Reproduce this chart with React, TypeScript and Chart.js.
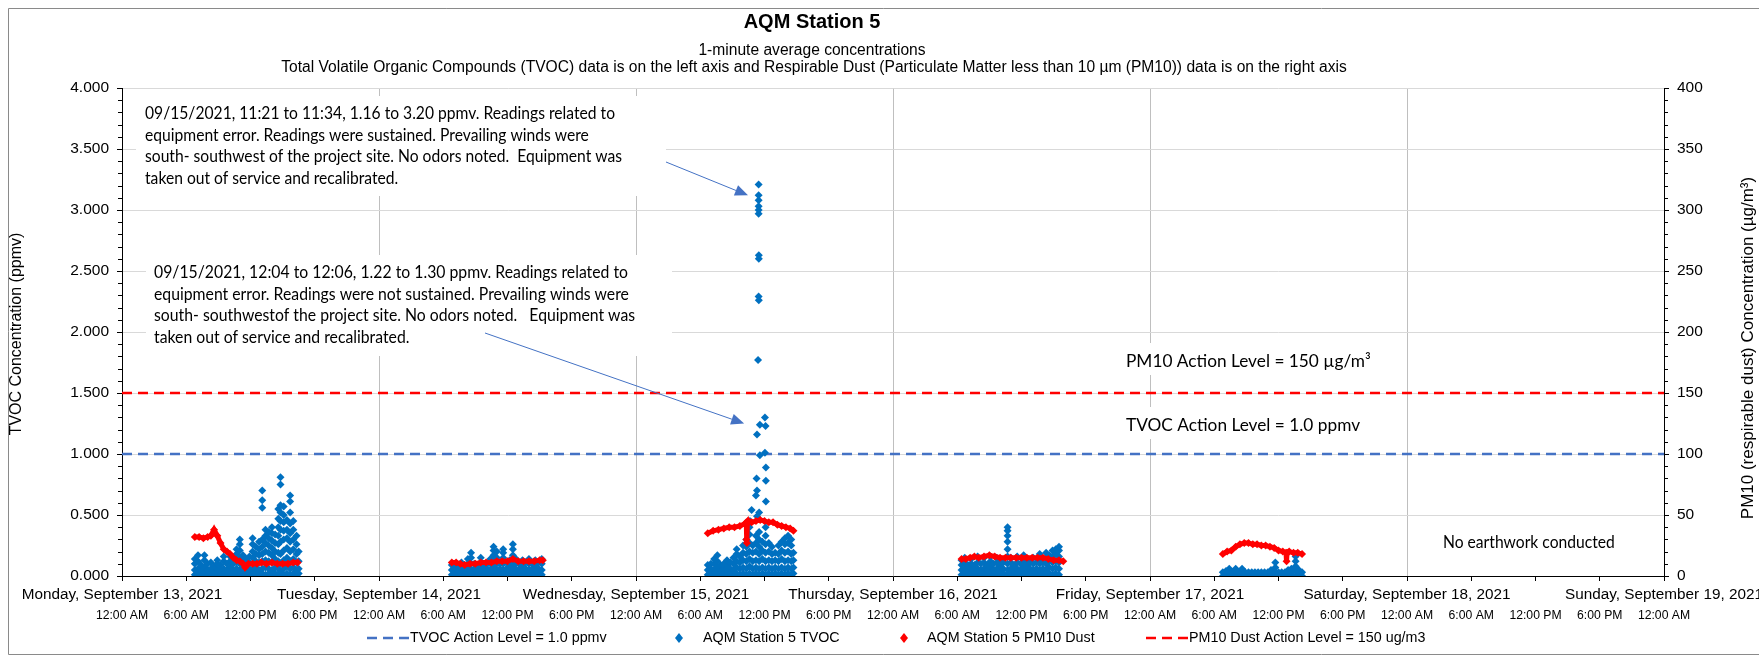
import React, { useEffect, useRef } from 'react';
import { Chart, registerables } from 'chart.js';

Chart.register(...registerables);

// ---------- labels ----------
const chartTitle = 'AQM Station 5';
const subtitle1 = '1-minute average concentrations';
const subtitle2 =
  'Total Volatile Organic Compounds (TVOC) data is on the left axis and Respirable Dust (Particulate Matter less than 10 µm (PM10)) data is on the right axis';
const leftAxisTitle = 'TVOC Concentration (ppmv)';
const rightAxisTitle = 'PM10 (respirable dust) Concentration (µg/m³)';
const dayLabels = [
  'Monday, September 13, 2021',
  'Tuesday, September 14, 2021',
  'Wednesday, September 15, 2021',
  'Thursday, September 16, 2021',
  'Friday, September 17, 2021',
  'Saturday, September 18, 2021',
  'Sunday, September 19, 2021',
];
const timeLabels = ['12:00 AM', '6:00 AM', '12:00 PM', '6:00 PM'];
const legendLabels = [
  'TVOC Action Level = 1.0 ppmv',
  'AQM Station 5 TVOC',
  'AQM Station 5 PM10 Dust',
  'PM10 Dust Action Level = 150 ug/m3',
];
const note1 = [
  '09/15/2021, 11:21 to 11:34, 1.16 to 3.20 ppmv. Readings related to',
  'equipment error. Readings were sustained. Prevailing winds were',
  'south- southwest of the project site. No odors noted.  Equipment was',
  'taken out of service and recalibrated.',
];
const note2 = [
  '09/15/2021, 12:04 to 12:06, 1.22 to 1.30 ppmv. Readings related to',
  'equipment error. Readings were not sustained. Prevailing winds were',
  'south- southwestof the project site. No odors noted.   Equipment was',
  'taken out of service and recalibrated.',
];
const pm10LevelText = 'PM10 Action Level = 150 µg/m³';
const tvocLevelText = 'TVOC Action Level = 1.0 ppmv';
const noWorkText = 'No earthwork conducted';

// ---------- axis ranges (hours since Mon 13 Sep 2021 00:00) ----------
const xMinHours = 0;
const xMaxHours = 144;
const tvocActionLevel = 1.0;
const pm10ActionLevel = 150;

// ---------- TVOC (ppmv), columns of readings ----------
const monTvocHours = [6.8, 7.1, 7.4, 7.7, 8.0, 8.3, 8.6, 8.9, 9.2, 9.5, 9.8, 10.1, 10.4, 10.7, 11.0, 11.3, 11.6, 11.9, 12.2, 12.5, 12.8, 13.1, 13.4, 13.7, 14.0, 14.3, 14.6, 14.8, 15.1, 15.4, 15.7, 16.0, 16.3, 16.5];
const monTvocValues = [
  [0.01, 0.05, 0.1, 0.14], [0.02, 0.06, 0.12, 0.17], [0.01, 0.05, 0.09], [0.02, 0.07, 0.13, 0.17],
  [0.01, 0.05, 0.1], [0.02, 0.06, 0.11], [0.01, 0.04, 0.08], [0.02, 0.06, 0.1, 0.13],
  [0.01, 0.05, 0.09], [0.02, 0.06, 0.12, 0.16], [0.01, 0.05, 0.1], [0.02, 0.07, 0.12, 0.16],
  [0.01, 0.05, 0.1, 0.14], [0.02, 0.06, 0.11, 0.18, 0.22], [0.01, 0.05, 0.1, 0.15, 0.21, 0.26, 0.3],
  [0.02, 0.07, 0.12, 0.17], [0.01, 0.05, 0.1, 0.14], [0.02, 0.06, 0.11, 0.16],
  [0.01, 0.05, 0.1, 0.15, 0.2, 0.26, 0.31], [0.02, 0.07, 0.12, 0.18, 0.24], [0.01, 0.05, 0.11, 0.17, 0.22, 0.28],
  [0.02, 0.06, 0.12, 0.18, 0.24, 0.3, 0.56, 0.62, 0.7], [0.01, 0.07, 0.13, 0.2, 0.27, 0.33, 0.38],
  [0.02, 0.06, 0.12, 0.19, 0.25, 0.31, 0.36], [0.01, 0.05, 0.11, 0.17, 0.23, 0.29, 0.35, 0.4],
  [0.02, 0.07, 0.14, 0.2, 0.27, 0.34], [0.01, 0.06, 0.12, 0.19, 0.26, 0.33, 0.4, 0.47, 0.55],
  [0.03, 0.1, 0.18, 0.28, 0.38, 0.45, 0.52, 0.58, 0.75, 0.81], [0.01, 0.06, 0.13, 0.21, 0.3, 0.37, 0.44, 0.5, 0.57],
  [0.02, 0.08, 0.15, 0.23, 0.31, 0.38, 0.46], [0.01, 0.06, 0.12, 0.2, 0.28, 0.35, 0.43, 0.52, 0.61, 0.66],
  [0.02, 0.07, 0.14, 0.22, 0.3, 0.38, 0.45], [0.01, 0.05, 0.11, 0.18, 0.26, 0.33], [0.02, 0.06, 0.12, 0.2],
];
const tueTvocHours = [30.8, 31.1, 31.4, 31.7, 32.0, 32.3, 32.6, 32.9, 33.2, 33.5, 33.8, 34.1, 34.4, 34.7, 35.0, 35.3, 35.6, 35.9, 36.2, 36.5, 36.8, 37.1, 37.4, 37.7, 38.0, 38.3, 38.6, 38.9, 39.2];
const tueTvocValues = [
  [0.01, 0.05, 0.09], [0.02, 0.06, 0.1], [0.01, 0.04, 0.08], [0.02, 0.06, 0.11], [0.01, 0.05, 0.09],
  [0.02, 0.06, 0.1, 0.14], [0.01, 0.05, 0.1, 0.15, 0.19], [0.02, 0.06, 0.1], [0.01, 0.05, 0.09],
  [0.02, 0.06, 0.11, 0.15], [0.01, 0.05, 0.09], [0.02, 0.06, 0.1], [0.01, 0.05, 0.1, 0.14],
  [0.02, 0.07, 0.12, 0.17, 0.21, 0.24], [0.01, 0.05, 0.1, 0.15, 0.2], [0.02, 0.06, 0.1],
  [0.01, 0.05, 0.1, 0.15, 0.19, 0.22], [0.02, 0.06, 0.11], [0.01, 0.05, 0.09, 0.13],
  [0.02, 0.07, 0.12, 0.17, 0.22, 0.26], [0.01, 0.05, 0.1, 0.14], [0.02, 0.06, 0.1], [0.01, 0.05, 0.09, 0.13],
  [0.02, 0.06, 0.11], [0.01, 0.05, 0.1, 0.14], [0.02, 0.06, 0.1], [0.01, 0.05, 0.09, 0.13],
  [0.02, 0.06, 0.11], [0.01, 0.05, 0.1, 0.14],
];
const wedTvocHours = [54.7, 55.0, 55.3, 55.6, 55.9, 56.2, 56.5, 56.8, 57.1, 57.4, 57.7, 58.0, 58.3, 58.6, 58.9, 59.2, 59.5, 59.8, 60.1, 60.4, 60.7, 61.0, 61.3, 61.6, 61.9, 62.2, 62.5, 62.7];
const wedTvocValues = [
  [0.01, 0.05, 0.09], [0.02, 0.06, 0.1], [0.01, 0.05, 0.1, 0.14], [0.02, 0.07, 0.12, 0.17],
  [0.01, 0.05, 0.09], [0.02, 0.06, 0.1], [0.01, 0.05, 0.09, 0.13], [0.02, 0.06, 0.11],
  [0.01, 0.05, 0.1, 0.15], [0.02, 0.07, 0.12, 0.18, 0.22], [0.01, 0.06, 0.11, 0.16],
  [0.02, 0.07, 0.13, 0.19, 0.25], [0.01, 0.06, 0.12, 0.18, 0.24, 0.3], [0.02, 0.08, 0.14, 0.2, 0.27, 0.34, 0.4],
  [0.01, 0.06, 0.12, 0.19, 0.25], [0.02, 0.07, 0.13, 0.2, 0.27, 0.33], [0.01, 0.06, 0.12, 0.18, 0.24, 0.3, 0.36],
  [0.02, 0.07, 0.14, 0.21, 0.28], [0.01, 0.06, 0.12, 0.19, 0.26, 0.33, 0.4], [0.02, 0.07, 0.13, 0.2, 0.27],
  [0.01, 0.06, 0.12, 0.18, 0.24], [0.02, 0.07, 0.13, 0.19], [0.01, 0.06, 0.12, 0.18, 0.25],
  [0.02, 0.07, 0.14, 0.21, 0.28], [0.01, 0.06, 0.12, 0.19, 0.26, 0.31], [0.02, 0.07, 0.13, 0.2, 0.27, 0.33],
  [0.01, 0.06, 0.12, 0.18, 0.25, 0.3], [0.02, 0.07, 0.13, 0.19],
];
const wedSpikeHours = [59.45, 59.45, 59.45, 59.45, 59.45, 59.45, 59.47, 59.47, 59.45, 59.47, 59.4, 60.04, 59.57, 60.1, 59.3, 60.04, 59.57, 60.13, 59.26, 60.13, 59.3, 59.2, 60.13, 58.8, 59.5, 59.3, 58.64];
const wedSpikeValues = [3.21, 3.12, 3.08, 3.03, 3.0, 2.97, 2.63, 2.6, 2.29, 2.26, 1.77, 1.3, 1.24, 1.23, 1.16, 1.01, 0.99, 0.89, 0.8, 0.78, 0.7, 0.66, 0.61, 0.54, 0.52, 0.49, 0.45];
const thuTvocHours = [78.4, 78.7, 79.0, 79.3, 79.6, 79.9, 80.2, 80.5, 80.8, 81.1, 81.4, 81.7, 82.0, 82.3, 82.7, 83.0, 83.3, 83.6, 83.9, 84.2, 84.5, 84.8, 85.1, 85.4, 85.7, 86.0, 86.3, 86.6, 86.9, 87.2, 87.5];
const thuTvocValues = [
  [0.01, 0.05, 0.09, 0.13], [0.02, 0.06, 0.11, 0.15], [0.01, 0.05, 0.09], [0.02, 0.06, 0.1, 0.14],
  [0.01, 0.05, 0.09], [0.02, 0.06, 0.11, 0.16], [0.01, 0.05, 0.1], [0.02, 0.06, 0.11, 0.15],
  [0.01, 0.05, 0.09], [0.02, 0.07, 0.12, 0.16], [0.01, 0.05, 0.1], [0.02, 0.06, 0.11, 0.15],
  [0.01, 0.05, 0.09, 0.13], [0.02, 0.06, 0.11], [0.01, 0.05, 0.1, 0.16, 0.22, 0.28, 0.33, 0.37, 0.4],
  [0.02, 0.06, 0.11, 0.15], [0.01, 0.05, 0.09], [0.02, 0.06, 0.11, 0.16], [0.01, 0.05, 0.1],
  [0.02, 0.07, 0.12, 0.17], [0.01, 0.05, 0.09, 0.13], [0.02, 0.06, 0.11], [0.01, 0.05, 0.1, 0.15],
  [0.02, 0.06, 0.11], [0.01, 0.05, 0.1, 0.14, 0.18], [0.02, 0.06, 0.11], [0.01, 0.05, 0.1, 0.15, 0.19],
  [0.02, 0.07, 0.12, 0.17], [0.01, 0.06, 0.11, 0.16, 0.21], [0.02, 0.07, 0.12, 0.18, 0.22],
  [0.01, 0.06, 0.11, 0.16, 0.21, 0.24],
];
const friTvocHours = [102.8, 103.1, 103.4, 103.7, 104.0, 104.3, 104.6, 104.9, 105.2, 105.5, 105.8, 106.1, 106.4, 106.7, 107.0, 107.3, 107.7, 108.0, 108.3, 108.6, 108.9, 109.2, 109.6, 109.9, 110.2];
const friTvocValues = [
  [0.0, 0.03], [0.01, 0.04], [0.0, 0.03, 0.06], [0.01, 0.03], [0.0, 0.04, 0.06], [0.01, 0.03],
  [0.0, 0.03, 0.06], [0.01, 0.03], [0.0, 0.03], [0.01, 0.03], [0.0, 0.03], [0.01, 0.03], [0.0, 0.03],
  [0.01, 0.03], [0.0, 0.03], [0.01, 0.03, 0.05], [0.0, 0.03, 0.07, 0.11], [0.01, 0.03], [0.0, 0.03],
  [0.01, 0.03], [0.0, 0.03, 0.05], [0.01, 0.03, 0.06], [0.0, 0.04, 0.08, 0.12, 0.16], [0.01, 0.03, 0.05],
  [0.0, 0.03],
];

// ---------- PM10 (µg/m3) ----------
const monPm10Hours = [6.8, 7.2, 7.6, 8.0, 8.3, 8.6, 8.9, 9.2, 9.5, 9.8, 10.1, 10.4, 10.7, 11.0, 11.3, 11.5, 11.8, 12.2, 12.6, 13.0, 13.5, 14.0, 14.5, 15.0, 15.5, 16.0, 16.4];
const monPm10Values = [32, 32, 31, 32, 33, 38, 33, 27, 22, 20, 18, 15, 13, 12, 10, 7, 10, 10, 10, 11, 10, 11, 10, 10, 10, 11, 11];
const tuePm10Hours = [30.8, 31.2, 31.6, 32.0, 32.5, 33.0, 33.5, 34.0, 34.5, 35.0, 35.5, 36.0, 36.5, 37.0, 37.5, 38.0, 38.5, 39.0, 39.3];
const tuePm10Values = [11, 11, 10, 9, 10, 10, 11, 11, 11, 12, 12, 12, 14, 12, 12, 12, 12, 13, 13];
const wedPm10Hours = [54.7, 55.2, 55.7, 56.2, 56.7, 57.2, 57.7, 58.2, 58.3, 58.32, 58.36, 58.4, 58.5, 58.8, 59.2, 59.6, 60.0, 60.4, 60.8, 61.2, 61.6, 62.0, 62.4, 62.7];
const wedPm10Values = [35, 37, 38, 39, 40, 40, 41, 43, 44, 30, 27, 43, 45, 44, 45, 46, 45, 44, 44, 42, 41, 40, 39, 37];
const thuPm10Hours = [78.4, 78.8, 79.2, 79.6, 80.0, 80.5, 81.0, 81.5, 82.0, 82.5, 83.0, 83.5, 84.0, 84.5, 85.0, 85.5, 86.0, 86.5, 87.0, 87.5, 87.9];
const thuPm10Values = [14, 14, 15, 16, 15, 16, 17, 16, 15, 15, 15, 15, 15, 15, 15, 15, 15, 14, 13, 13, 12];
const friPm10Hours = [102.8, 103.2, 103.6, 104.0, 104.4, 104.8, 105.2, 105.6, 106.0, 106.4, 106.8, 107.2, 107.6, 108.0, 108.4, 108.7, 108.75, 108.8, 109.0, 109.4, 109.8, 110.2];
const friPm10Values = [18, 20, 21, 24, 26, 27, 27, 26, 26, 25, 25, 24, 23, 21, 20, 19, 12, 19, 20, 19, 19, 18];

// ---------- styling ----------
const ARIAL = '"Liberation Sans", Arial, sans-serif';
const CALIBRI = 'Lato, "Noto Sans", sans-serif';
const TVOC_BLUE = '#0070C0';
const LINE_BLUE = '#4472C4';
const RED = '#FF0000';
const CANVAS_W = 1751;
const CANVAS_H = 647;

function columnsToPoints(hours: number[], cols: number[][]) {
  const pts: { x: number; y: number }[] = [];
  hours.forEach((h, i) => cols[i].forEach((v) => pts.push({ x: h, y: v })));
  return pts;
}
function pairsToPoints(hours: number[], values: number[]) {
  return hours.map((h, i) => ({ x: h, y: values[i] }));
}
function withGaps(parts: { x: number; y: number | null }[][]) {
  const out: { x: number; y: number | null }[] = [];
  parts.forEach((p, i) => {
    if (i > 0) out.push({ x: p[0].x - 1, y: null });
    out.push(...p);
  });
  return out;
}

function drawFitted(ctx: CanvasRenderingContext2D, lines: string[], x: number, y0: number, lh: number, font: string, scale: number) {
  ctx.font = font;
  lines.forEach((t, i) => {
    ctx.save();
    ctx.translate(x, y0 + i * lh);
    ctx.scale(scale, 1);
    ctx.fillText(t, 0, 0);
    ctx.restore();
  });
}

function arrow(ctx: CanvasRenderingContext2D, x1: number, y1: number, x2: number, y2: number) {
  const a = Math.atan2(y2 - y1, x2 - x1);
  const L = 13;
  const W = 5.5;
  ctx.strokeStyle = LINE_BLUE;
  ctx.fillStyle = LINE_BLUE;
  ctx.lineWidth = 1;
  ctx.beginPath();
  ctx.moveTo(x1, y1);
  ctx.lineTo(x2 - L * Math.cos(a), y2 - L * Math.sin(a));
  ctx.stroke();
  ctx.beginPath();
  ctx.moveTo(x2, y2);
  ctx.lineTo(x2 - L * Math.cos(a) + W * Math.sin(a), y2 - L * Math.sin(a) - W * Math.cos(a));
  ctx.lineTo(x2 - L * Math.cos(a) - W * Math.sin(a), y2 - L * Math.sin(a) + W * Math.cos(a));
  ctx.closePath();
  ctx.fill();
}

const NOTE_FONT = `16.5px ${CALIBRI}`;
const LABEL_FONT = `17.5px ${CALIBRI}`;

const decorPlugin = {
  id: 'decor',
  beforeDatasetsDraw(chart: any) {
    const ctx: CanvasRenderingContext2D = chart.ctx;
    const ya = chart.scales.y;
    const yb = chart.scales.y2;
    ctx.save();
    // minor ticks
    ctx.strokeStyle = '#000';
    ctx.lineWidth = 1;
    for (let v = 0; v <= 4.0001; v += 0.1) {
      const r = Math.round(v * 10);
      if (r % 5 === 0) continue;
      const y = Math.round(ya.getPixelForValue(v)) + 0.5;
      ctx.beginPath();
      ctx.moveTo(ya.right - 4, y);
      ctx.lineTo(ya.right, y);
      ctx.stroke();
    }
    for (let v = 0; v <= 400; v += 10) {
      if (v % 50 === 0) continue;
      const y = Math.round(yb.getPixelForValue(v)) + 0.5;
      ctx.beginPath();
      ctx.moveTo(yb.left, y);
      ctx.lineTo(yb.left + 4, y);
      ctx.stroke();
    }
    // note texts
    ctx.textBaseline = 'middle';
    ctx.textAlign = 'left';
    ctx.font = NOTE_FONT;
    const s1 = 470 / ctx.measureText(note1[0]).width;
    const s2 = 474 / ctx.measureText(note2[0]).width;
    ctx.font = LABEL_FONT;
    const sLab = s1 * 1.04;
    const wPm = ctx.measureText(pm10LevelText).width * sLab;
    const wTv = ctx.measureText(tvocLevelText).width * sLab;
    // white note boxes
    ctx.fillStyle = '#fff';
    ctx.fillRect(128, 88, 530, 100);
    ctx.fillRect(138, 247, 526, 101);
    ctx.fillRect(1110, 335, wPm + 16, 32);
    ctx.fillRect(1110, 399, wTv + 16, 32);
    ctx.fillStyle = '#000';
    drawFitted(ctx, note1, 137, 106, 21.4, NOTE_FONT, s1);
    drawFitted(ctx, note2, 146, 265, 21.4, NOTE_FONT, s2);
    drawFitted(ctx, [noWorkText], 1435, 535, 0, NOTE_FONT, s1);
    drawFitted(ctx, [pm10LevelText], 1118, 353, 0, LABEL_FONT, sLab);
    drawFitted(ctx, [tvocLevelText], 1118, 417, 0, LABEL_FONT, sLab);
    ctx.restore();
  },
  afterDraw(chart: any) {
    const ctx: CanvasRenderingContext2D = chart.ctx;
    const xs = chart.scales.x;
    const ya = chart.scales.y;
    ctx.save();
    // outer frame
    ctx.strokeStyle = '#8a8a8a';
    ctx.lineWidth = 1;
    ctx.beginPath();
    ctx.moveTo(CANVAS_W, 0.5);
    ctx.lineTo(0.5, 0.5);
    ctx.lineTo(0.5, CANVAS_H - 0.5);
    ctx.lineTo(CANVAS_W, CANVAS_H - 0.5);
    ctx.stroke();

    // titles
    ctx.fillStyle = '#000';
    ctx.textAlign = 'center';
    ctx.textBaseline = 'middle';
    ctx.font = `bold 20px ${ARIAL}`;
    ctx.fillText(chartTitle, 804, 14.5);
    ctx.font = `15.6px ${ARIAL}`;
    ctx.fillText(subtitle1, 804, 42.5);
    ctx.fillText(subtitle2, 806, 59.5);

    // x axis labels
    ctx.font = `15.3px ${ARIAL}`;
    for (let d = 0; d < dayLabels.length; d++) {
      ctx.fillText(dayLabels[d], xs.getPixelForValue(d * 24), 587);
    }
    ctx.font = `12.2px ${ARIAL}`;
    for (let h = xMinHours; h <= xMaxHours; h += 6) {
      ctx.fillText(timeLabels[(h / 6) % 4], xs.getPixelForValue(h), 608);
    }

    // axis titles
    ctx.font = `16px ${ARIAL}`;
    ctx.save();
    ctx.translate(9, 326);
    ctx.rotate(-Math.PI / 2);
    ctx.fillText(leftAxisTitle, 0, 0);
    ctx.restore();
    ctx.font = `17px ${ARIAL}`;
    ctx.save();
    ctx.translate(1740, 340);
    ctx.rotate(-Math.PI / 2);
    ctx.fillText(rightAxisTitle, 0, 0);
    ctx.restore();

    // arrows pointing at the readings
    arrow(ctx, 658, 154, xs.getPixelForValue(58.46), ya.getPixelForValue(3.12));
    arrow(ctx, 477, 325, xs.getPixelForValue(58.1), ya.getPixelForValue(1.25));

    // legend
    const ly = 630;
    ctx.textAlign = 'left';
    ctx.font = `14.3px ${ARIAL}`;
    ctx.lineWidth = 2.5;
    ctx.setLineDash([10, 6]);
    ctx.strokeStyle = LINE_BLUE;
    ctx.beginPath();
    ctx.moveTo(359, ly);
    ctx.lineTo(401, ly);
    ctx.stroke();
    ctx.strokeStyle = RED;
    ctx.beginPath();
    ctx.moveTo(1138, ly);
    ctx.lineTo(1180, ly);
    ctx.stroke();
    ctx.setLineDash([]);
    const diamond = (cx: number, color: string) => {
      ctx.fillStyle = color;
      ctx.beginPath();
      ctx.moveTo(cx, ly - 5);
      ctx.lineTo(cx + 4, ly);
      ctx.lineTo(cx, ly + 5);
      ctx.lineTo(cx - 4, ly);
      ctx.closePath();
      ctx.fill();
    };
    diamond(671, TVOC_BLUE);
    diamond(896, RED);
    ctx.fillStyle = '#000';
    ctx.fillText(legendLabels[0], 402, ly);
    ctx.fillText(legendLabels[1], 695, ly);
    ctx.fillText(legendLabels[2], 919, ly);
    ctx.fillText(legendLabels[3], 1181, ly);
    ctx.restore();
  },
};

export default function App() {
  const ref = useRef<HTMLCanvasElement | null>(null);
  useEffect(() => {
    document.body.style.overflow = 'hidden';
    const canvas = ref.current;
    if (!canvas) return;
    const tvocPoints = [
      ...columnsToPoints(monTvocHours, monTvocValues),
      ...columnsToPoints(tueTvocHours, tueTvocValues),
      ...columnsToPoints(wedTvocHours, wedTvocValues),
      ...pairsToPoints(wedSpikeHours, wedSpikeValues),
      ...columnsToPoints(thuTvocHours, thuTvocValues),
      ...columnsToPoints(friTvocHours, friTvocValues),
    ];
    const pmPoints = withGaps([
      pairsToPoints(monPm10Hours, monPm10Values),
      pairsToPoints(tuePm10Hours, tuePm10Values),
      pairsToPoints(wedPm10Hours, wedPm10Values),
      pairsToPoints(thuPm10Hours, thuPm10Values),
      pairsToPoints(friPm10Hours, friPm10Values),
    ]);
    Chart.defaults.font.family = ARIAL;
    const chart = new Chart(canvas, {
      type: 'scatter',
      data: {
        datasets: [
          {
            label: legendLabels[0],
            data: [{ x: xMinHours, y: tvocActionLevel }, { x: xMaxHours, y: tvocActionLevel }],
            yAxisID: 'y',
            showLine: true,
            borderColor: LINE_BLUE,
            borderWidth: 2.5,
            borderDash: [10, 6],
            pointRadius: 0,
            order: 4,
          },
          {
            label: legendLabels[3],
            data: [{ x: xMinHours, y: pm10ActionLevel }, { x: xMaxHours, y: pm10ActionLevel }],
            yAxisID: 'y2',
            showLine: true,
            borderColor: RED,
            borderWidth: 2.5,
            borderDash: [10, 6],
            pointRadius: 0,
            order: 3,
          },
          {
            label: legendLabels[1],
            data: tvocPoints,
            yAxisID: 'y',
            pointStyle: 'rectRot',
            pointRadius: 4,
            pointBackgroundColor: TVOC_BLUE,
            pointBorderWidth: 0,
            borderColor: TVOC_BLUE,
            backgroundColor: TVOC_BLUE,
            order: 2,
          },
          {
            label: legendLabels[2],
            data: pmPoints as any,
            yAxisID: 'y2',
            showLine: true,
            spanGaps: false,
            borderColor: RED,
            borderWidth: 5,
            pointStyle: 'rectRot',
            pointRadius: 4,
            pointBackgroundColor: RED,
            pointBorderWidth: 0,
            backgroundColor: RED,
            order: 1,
          },
        ],
      },
      options: {
        animation: false,
        responsive: false,
        devicePixelRatio: 1,
        layout: { padding: { top: 80, left: 0, right: 0, bottom: 0 } },
        plugins: { legend: { display: false }, tooltip: { enabled: false }, title: { display: false } },
        scales: {
          x: {
            type: 'linear',
            min: xMinHours,
            max: xMaxHours,
            ticks: { stepSize: 6, display: false },
            grid: {
              color: (c: any) => (c.tick && c.tick.value % 24 === 0 ? '#bfbfbf' : 'rgba(0,0,0,0)'),
              tickColor: '#000',
              tickLength: 5,
            },
            border: { color: '#000', width: 1 },
            afterFit: (s: any) => {
              s.height = 79;
            },
          },
          y: {
            type: 'linear',
            position: 'left',
            min: 0,
            max: 4,
            ticks: {
              stepSize: 0.5,
              color: '#000',
              padding: 8,
              font: { size: 15.5, family: ARIAL },
              callback: (v: any) => Number(v).toFixed(3),
            },
            grid: { color: '#d9d9d9', tickColor: '#000', tickLength: 5 },
            border: { color: '#000', width: 1 },
            afterFit: (s: any) => {
              s.width = 114;
            },
          },
          y2: {
            type: 'linear',
            position: 'right',
            min: 0,
            max: 400,
            ticks: { stepSize: 50, color: '#000', padding: 8, font: { size: 15.5, family: ARIAL } },
            grid: { drawOnChartArea: false, tickColor: '#000', tickLength: 5 },
            border: { color: '#000', width: 1 },
            afterFit: (s: any) => {
              s.width = 95;
            },
          },
        },
      },
      plugins: [decorPlugin],
    });
    return () => chart.destroy();
  }, []);
  return (
    <div style={{ position: 'fixed', left: 8, top: 8, width: CANVAS_W, height: CANVAS_H }}>
      <canvas
        ref={ref}
        width={CANVAS_W}
        height={CANVAS_H}
        style={{ display: 'block', width: CANVAS_W, height: CANVAS_H }}
      />
    </div>
  );
}
